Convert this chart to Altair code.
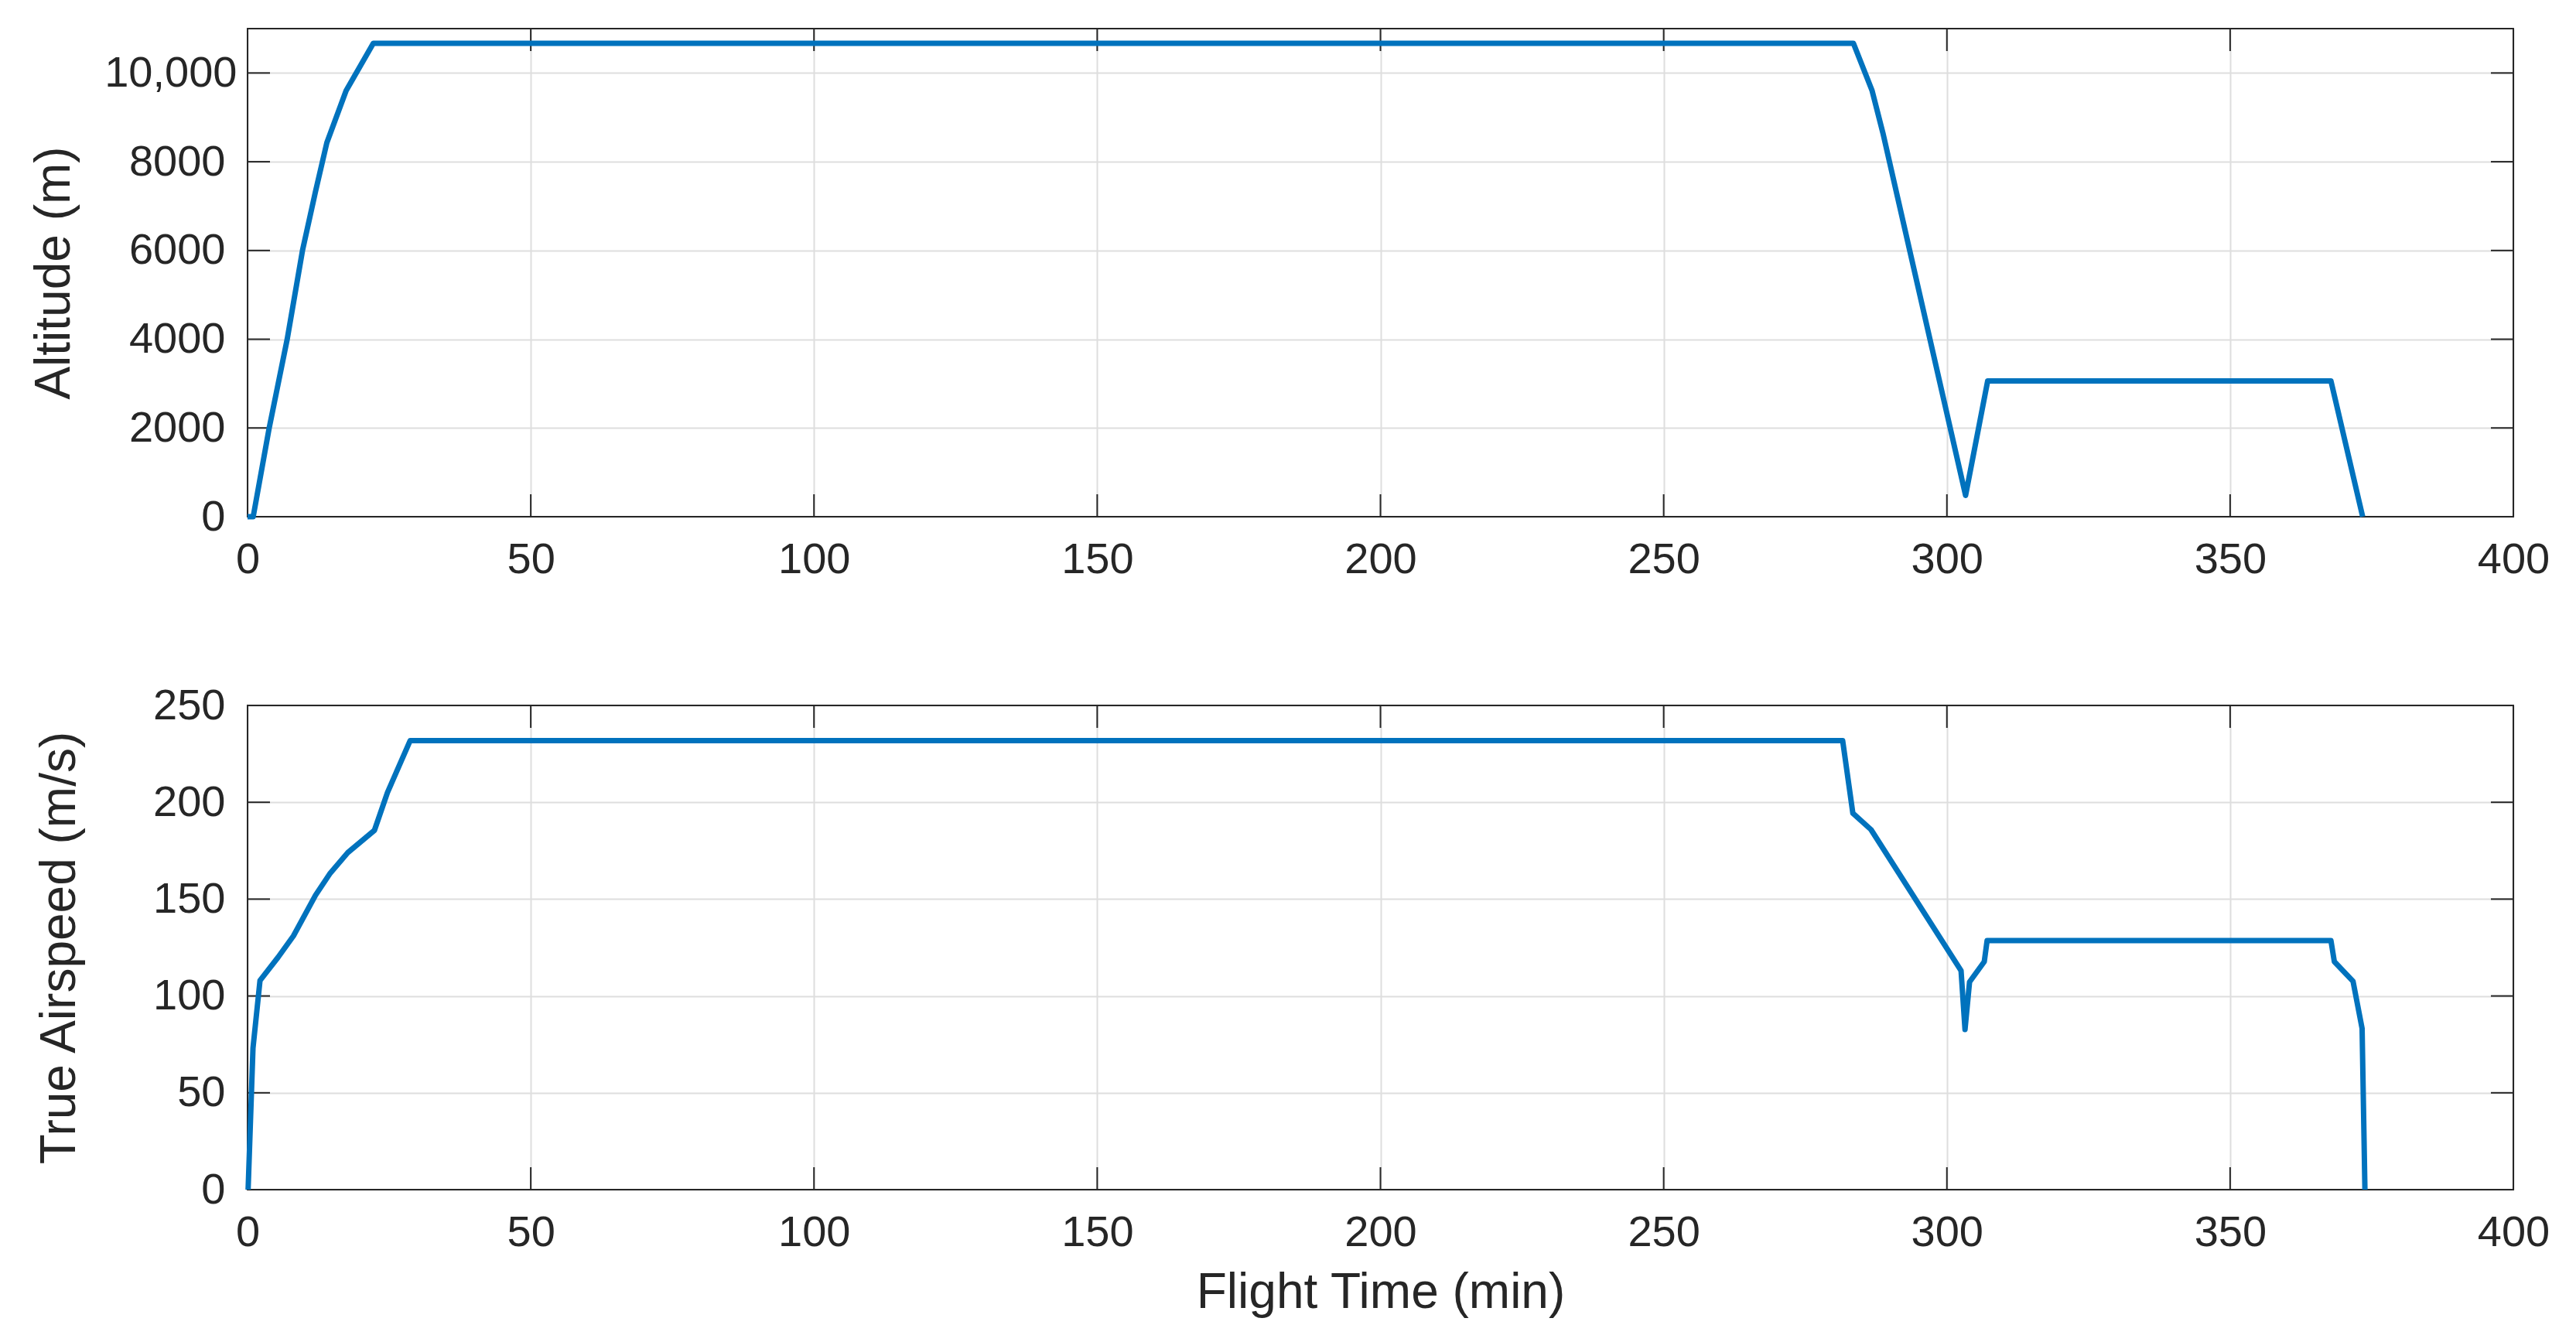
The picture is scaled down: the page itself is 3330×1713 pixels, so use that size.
import altair as alt
import pandas as pd

# ---- data ----
alt_time = [0, 1.0, 3.8, 7.0, 9.7, 12.0, 14.0, 17.4, 22.2, 283.5, 286.8, 288.7, 303.3, 307.2, 367.8, 373.4]
alt_m = [0, 0, 1985, 4000, 6000, 7330, 8430, 9600, 10670, 10670, 9600, 8650, 480, 3060, 3060, 0]

tas_time = [0.1, 0.96, 2.2, 5.4, 8.1, 12.0, 14.5, 17.7, 22.4, 24.7, 28.7, 281.6, 283.4, 286.6,
            302.5, 303.2, 304.0, 306.6, 307.1, 367.8, 368.4, 371.7, 373.3, 373.8]
tas_ms = [0, 73, 108, 120, 131, 152, 163, 174, 185.5, 205, 231.8, 231.8, 194.3, 185.9,
          113.1, 82.7, 107.2, 117.7, 128.6, 128.6, 117.7, 107.6, 83.2, 0]

x_ticks = [0, 50, 100, 150, 200, 250, 300, 350, 400]
alt_ticks = [0, 2000, 4000, 6000, 8000, 10000]
tas_ticks = [0, 50, 100, 150, 200, 250]

# ---- style ----
W = 2929
H1 = 631
H2 = 626
FONT = "Liberation Sans"
TXT = "#262626"
GRID = "#dedede"
BLUE = "#0072BD"
TICK = 29
LABEL_SIZE = 56
TITLE_SIZE = 64


def panel(times, values, ydomain, yticks, ytitle, H, title_x, xtitle):
    df = pd.DataFrame({"t": times, "y": values})
    xt = pd.DataFrame({"t": x_ticks})
    yt = pd.DataFrame({"y": yticks})
    xs = alt.Scale(domain=[0, 400], nice=False, zero=False)
    ys = alt.Scale(domain=ydomain, nice=False, zero=False)

    xaxis_kw = dict(
        values=x_ticks, grid=True, gridColor=GRID, gridWidth=2, ticks=False, tickSize=0,
        domain=False, labelFont=FONT, labelFontSize=LABEL_SIZE, labelColor=TXT,
        labelPadding=28, labelFlush=False, labelOverlap=False, format="d",
    )
    if xtitle:
        xaxis_kw.update(
            title=xtitle, titleFont=FONT, titleFontSize=TITLE_SIZE, titleColor=TXT,
            titleFontWeight="normal", titleX=W / 2, titleY=152, titleBaseline="alphabetic",
            titleAlign="center",
        )
    else:
        xaxis_kw.update(title="")
    xaxis = alt.Axis(**xaxis_kw)

    yaxis = alt.Axis(
        values=yticks, grid=True, gridColor=GRID, gridWidth=2, ticks=False, tickSize=0,
        domain=False, labelFont=FONT, labelFontSize=LABEL_SIZE, labelColor=TXT,
        labelPadding={"condition": {"test": "datum.value >= 10000", "value": 14}, "value": 29},
        labelFlush=False, labelOverlap=False,
        labelExpr="datum.value >= 10000 ? format(datum.value, ',') : format(datum.value, 'd')",
        title=ytitle, titleFont=FONT, titleFontSize=TITLE_SIZE, titleColor=TXT,
        titleFontWeight="normal", titleAngle=270, titleX=title_x, titleY=H / 2,
        titleBaseline="alphabetic", titleAlign="center",
    )

    line = alt.Chart(df).mark_line(color=BLUE, strokeWidth=7, strokeJoin="round").encode(
        x=alt.X("t:Q", scale=xs, axis=xaxis),
        y=alt.Y("y:Q", scale=ys, axis=yaxis),
        order="t:Q",
    )
    tick_style = dict(color=TXT, strokeWidth=2)
    xb = alt.Chart(xt).mark_rule(**tick_style).encode(
        x=alt.X("t:Q", scale=xs, axis=xaxis), y=alt.value(H), y2=alt.value(H - TICK))
    xtop = alt.Chart(xt).mark_rule(**tick_style).encode(
        x=alt.X("t:Q", scale=xs, axis=xaxis), y=alt.value(0), y2=alt.value(TICK))
    yl = alt.Chart(yt).mark_rule(**tick_style).encode(
        y=alt.Y("y:Q", scale=ys, axis=yaxis), x=alt.value(0), x2=alt.value(TICK))
    yr = alt.Chart(yt).mark_rule(**tick_style).encode(
        y=alt.Y("y:Q", scale=ys, axis=yaxis), x=alt.value(W - TICK), x2=alt.value(W))

    # box (drawn above the gridlines)
    box = alt.Chart(pd.DataFrame({"k": [0]})).mark_rect(
        fill=None, fillOpacity=0, stroke=TXT, strokeWidth=2
    ).encode(x=alt.value(0), x2=alt.value(W), y=alt.value(0), y2=alt.value(H))

    return alt.layer(xb, xtop, yl, yr, box, line).properties(width=W, height=H)


top = panel(alt_time, alt_m, [0, 11000], alt_ticks, "Altitude (m)", H1, -231, None)
bottom = panel(tas_time, tas_ms, [0, 250], tas_ticks, "True Airspeed (m/s)", H2, -224,
               "Flight Time (min)")

chart = alt.vconcat(top, bottom, spacing=244, bounds="flush").properties(
    padding={"left": 29, "top": 27, "right": 20, "bottom": 10},
    background="white",
).configure_view(stroke=TXT, strokeWidth=2)

chart.save("out.html", embed_options={"renderer": "svg", "actions": False})
